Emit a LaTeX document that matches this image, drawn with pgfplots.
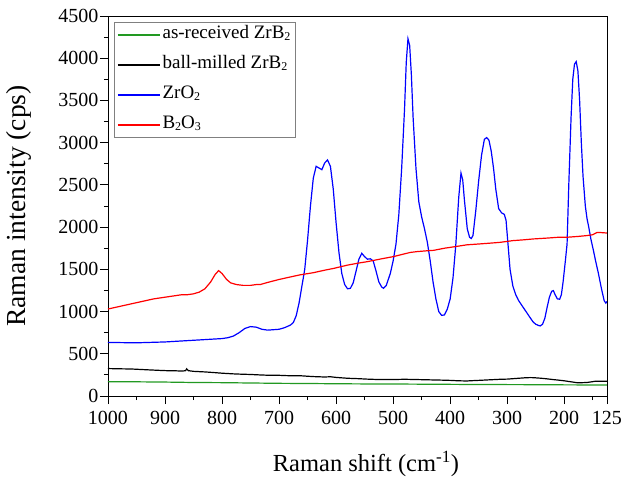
\documentclass[border=0pt]{standalone}
\usepackage{pgfplots}
\pgfplotsset{compat=1.18}
\usepackage{fontspec}
\setmainfont{Liberation Serif}
\definecolor{cgreen}{RGB}{34,153,34}
\newcommand{\sub}[1]{\raisebox{-0.3ex}{\fontsize{12}{12}\selectfont #1}}
\begin{document}
\begin{tikzpicture}
\begin{axis}[
  at={(0pt,0pt)}, anchor=south west,
  width=499pt, height=380pt, scale only axis,
  x dir=reverse,
  xmin=125, xmax=1000, ymin=0, ymax=4500,
  xtick={1000,900,800,700,600,500,400,300,200,125},
  minor xtick={950,850,750,650,550,450,350,250,150},
  ytick={0,500,...,4500},
  minor ytick={250,750,...,4250},
  xtick pos=bottom, ytick pos=left,
  tick align=outside,
  major tick length=8pt, minor tick length=4pt,
  every tick/.style={black, line width=0.8pt},
  axis line style={line width=0.9pt},
  /pgf/number format/assume math mode=true,
  /pgf/number format/1000 sep={},
  tick label style={font=\fontsize{20}{22}\selectfont},
  xticklabel style={yshift=-4pt},
  yticklabel style={xshift=2pt},
  xlabel={Raman shift (cm\textsuperscript{-1})},
  ylabel={Raman intensity (cps)},
  xlabel style={font=\fontsize{24.5}{28}\selectfont, at={(axis description cs:0.517,-0.199)}, anchor=base},
  ylabel style={font=\fontsize{27.5}{30}\selectfont, at={(axis description cs:-0.166,0.5)}, anchor=base, rotate=0},
  legend style={at={(0.012,0.984)}, anchor=north west, draw=gray, line width=0.6pt,
    font=\fontsize{19}{22}\selectfont, inner xsep=3pt, inner ysep=1pt, row sep=7pt,
    nodes={text height=12pt, text depth=5pt, inner ysep=3pt}},
  legend cell align=left,
  legend image code/.code={\draw[#1,line width=1.3pt] (8pt,0pt) -- (50pt,0pt);},
  every axis plot/.append style={line width=1.2pt},
]
\addplot[color=cgreen] coordinates {
(1000,170)(950,168)(900,165)(850,160)(800,158)(750,154)(700,150)(650,148)(600,145)(550,143)(500,142)(450,140)(400,138)(350,136)(300,135)(250,134)(200,132)(160,131)(125,130)};
\addlegendentry{as-received ZrB\sub{2}}
\addplot[color=black] coordinates {
(1000,325)(980,322)(960,320)(945,315)(930,310)(915,305)(897,300)(880,298)(870,295)(864,300)(862,322)(859,300)(850,292)(830,285)(815,278)(800,270)(780,262)(765,258)(750,255)(735,250)(720,246)(700,245)(690,242)(680,240)(663,240)(650,234)(640,230)(620,225)(610,228)(600,220)(580,210)(560,205)(546,200)(530,196)(520,195)(500,195)(480,198)(460,195)(440,192)(429,190)(415,188)(400,185)(385,180)(371,178)(360,182)(350,185)(330,192)(312,198)(300,200)(290,205)(280,210)(270,215)(260,218)(254,217)(240,210)(230,203)(220,195)(210,188)(200,180)(190,170)(178,158)(168,158)(160,160)(150,170)(145,175)(135,174)(125,174)};
\addlegendentry{ball-milled ZrB\sub{2}}
\addplot[color=blue] coordinates {
(1000,635)(975,632)(950,630)(925,635)(900,640)(875,650)(850,660)(825,670)(800,680)(790,690)(780,710)(770,750)(760,800)(750,822)(740,815)(730,790)(720,780)(710,785)(700,790)(690,810)(680,840)(675,870)(670,950)(665,1100)(660,1300)(655,1500)(650,1850)(645,2250)(640,2580)(635,2720)(630,2700)(625,2680)(620,2760)(615,2795)(610,2720)(605,2450)(600,2050)(595,1700)(590,1450)(585,1320)(580,1270)(575,1275)(570,1340)(565,1480)(560,1620)(555,1690)(550,1650)(545,1620)(540,1625)(535,1600)(530,1480)(525,1350)(520,1290)(517,1276)(512,1310)(505,1450)(500,1600)(495,1800)(490,2150)(485,2700)(480,3400)(477,3950)(474,4230)(471,4150)(468,3800)(465,3300)(460,2700)(455,2300)(450,2120)(445,1980)(440,1820)(435,1600)(430,1350)(425,1150)(420,1000)(415,955)(410,960)(405,1030)(400,1150)(395,1400)(390,1800)(385,2350)(381,2640)(378,2560)(375,2320)(370,1980)(366,1880)(363,1865)(360,1900)(355,2200)(350,2550)(345,2850)(340,3040)(336,3060)(332,3030)(328,2900)(324,2700)(320,2450)(315,2220)(310,2170)(305,2150)(302,2080)(298,1750)(295,1500)(290,1300)(285,1200)(280,1130)(275,1080)(270,1030)(265,980)(260,930)(255,880)(250,850)(245,835)(242,830)(238,850)(234,920)(230,1050)(226,1170)(222,1240)(219,1248)(216,1200)(212,1150)(208,1146)(205,1200)(202,1350)(198,1600)(195,1800)(192,2500)(188,3300)(185,3750)(182,3930)(179,3960)(176,3850)(173,3500)(170,3000)(167,2600)(163,2250)(160,2100)(157,2000)(153,1850)(149,1730)(145,1600)(140,1450)(135,1280)(130,1130)(127,1100)(125,1120)};
\addlegendentry{ZrO\sub{2}}
\addplot[color=red] coordinates {
(1000,1030)(980,1060)(960,1090)(940,1120)(920,1150)(900,1170)(880,1190)(870,1200)(860,1200)(850,1210)(840,1230)(830,1270)(820,1350)(812,1440)(806,1485)(800,1450)(792,1380)(785,1340)(775,1320)(763,1310)(750,1310)(740,1320)(733,1320)(720,1345)(700,1380)(680,1410)(663,1435)(640,1460)(620,1490)(605,1510)(580,1550)(560,1575)(546,1590)(520,1625)(500,1650)(488,1670)(470,1700)(458,1710)(440,1720)(429,1725)(410,1750)(390,1770)(371,1790)(350,1800)(330,1810)(312,1820)(290,1840)(270,1850)(254,1860)(230,1870)(210,1880)(195,1880)(175,1890)(160,1900)(150,1910)(143,1935)(135,1935)(125,1930)};
\addlegendentry{B\sub{2}O\sub{3}}
\end{axis}
\pgfresetboundingbox
\path (-108pt,-80pt) rectangle (531pt,396pt);
\end{tikzpicture}
\end{document}
